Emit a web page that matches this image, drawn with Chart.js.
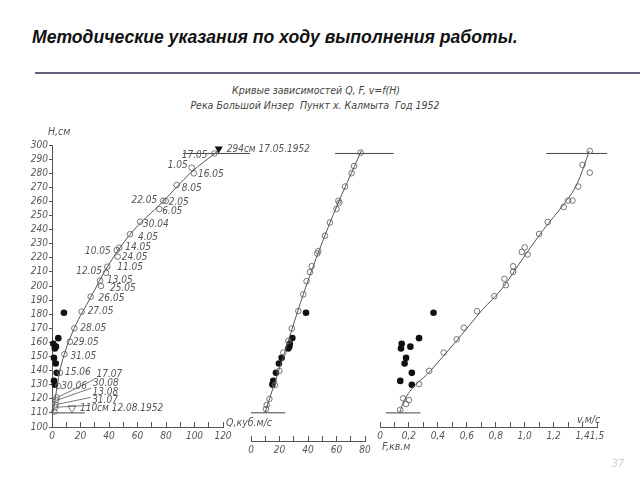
<!DOCTYPE html>
<html lang="ru">
<head>
<meta charset="utf-8">
<script src="https://cdn.jsdelivr.net/npm/chart.js@4.4.1/dist/chart.umd.min.js"></script>
<style>
  body { margin: 0; width: 640px; height: 480px; background: #fff; position: relative; overflow: hidden; }
  canvas { position: absolute; left: 0; top: 0; }
  .t { position: absolute; white-space: nowrap; font: italic 10.5px/11px "DejaVu Sans Condensed", "Liberation Sans", sans-serif; color: #555; }
  #title { position: absolute; left: 32px; top: 29px; white-space: nowrap; font: bold italic 17.6px/17px "Liberation Sans", Arial, sans-serif; color: #111; }
  #rule { position: absolute; left: 35px; top: 72px; width: 605px; border-top: 2px solid #62627f; }
  .sub { transform: translateX(-50%); font-size: 10.5px; color: #444; }
</style>
</head>
<body>
<div id="title">Методические указания по ходу выполнения работы.</div>
<div id="rule"></div>
<div class="t sub" style="left:316px; top:85px">Кривые зависимостей Q, F, v=f(H)</div>
<div class="t sub" style="left:315px; top:100px">Река Большой Инзер&nbsp;&nbsp;Пункт х. Калмыта&nbsp;&nbsp;Год 1952</div>

<canvas id="chartQ" width="640" height="480"></canvas>
<canvas id="chartF" width="640" height="480"></canvas>
<canvas id="chartV" width="640" height="480"></canvas>

<div class="t" style="left:48px; top:126px">H,см</div>
<div class="t" style="left:226px; top:417px">Q,куб.м/с</div>
<div class="t" style="left:382px; top:441px">F,кв.м</div>
<div class="t" style="left:577px; top:414px">v,м/с</div>
<div class="t" style="left:612px; top:458px; color:#ccc">37</div>

<script>
// Q = f(H): кривая расходов
const qCurveH = [110.8, 125, 138, 151.5, 170, 192, 213.5, 236.5, 260, 280, 296.5];
const qCurveQ = [0.9, 3, 5.1, 8.6, 15.6, 27.2, 38.8, 54.7, 78, 97, 117.4];

// измеренные расходы (открытое русло)
const measDates = ['17.05', '1.05', '16.05', '8.05', '22.05', '2.05', '6.05', '30.04', '4.05', '10.05',
  '14.05', '24.05', '11.05', '12.05', '13.05', '25.05', '26.05', '27.05', '28.05', '29.05',
  '31.05', '15.06', '30.06', '17.07', '30.08', '13.08', '31.07', '12.08'];
const measH = [294, 283.9, 279.9, 271.6, 260.5, 260.3, 254.6, 245.6, 236.7, 225.5,
  227.2, 220.8, 213.7, 209.4, 203.8, 200, 192.4, 181.8, 170, 160.5,
  151.6, 138.5, 129.1, 121, 119, 116, 114, 111];
const measQ = [114, 98, 99.6, 87.5, 78, 79.8, 75.3, 61.8, 54.7, 45.4,
  47.2, 46.1, 38.8, 37.9, 33.7, 34.4, 27.1, 20.8, 15.7, 12.6,
  8.7, 5.6, 4.4, 3.2, 2.8, 2.5, 2.2, 1.6];

// F = f(H)
const fCurveH = [110, 150, 200, 250, 296];
const fCurveF = [9.8, 22.7, 38.7, 57.5, 77.5];
const fMeasH = [294.6, 285, 280, 270.5, 260.4, 259, 254.6, 245, 235.7, 224.6, 223, 214,
  209.8, 203.4, 194, 182.2, 169.8, 161, 152.8, 139.8, 129.7, 119.8, 115.5, 112.7];
const fMeasF = [77, 72.3, 70.6, 66, 61.3, 62, 60, 55.4, 51.9, 47.2, 46.5, 42.6,
  41.4, 39, 36.7, 33.2, 28.6, 26.2, 22.7, 19.9, 16.8, 12.9, 11, 10.5];

// v = f(H)
const vCurveH = [110.6, 117.5, 140, 160, 183.4, 197.7, 223.5, 240, 257.6, 271.7, 285, 295.8];
const vCurveV = [0.138, 0.161, 0.35, 0.52, 0.71, 0.84, 1.014, 1.13, 1.267, 1.359, 1.41, 1.446];
const vMeasH = [295.8, 285.9, 280.4, 270.5, 260.6, 260.6, 256, 245.4, 236.9, 227.4, 224.2, 222.3,
  214, 210, 205.1, 200.6, 192.8, 182.2, 170.4, 162.2, 152.8, 139.8, 130.4, 120.3, 119.1, 116.3, 112.2];
const vMeasV = [1.45, 1.4, 1.45, 1.37, 1.33, 1.3, 1.27, 1.16, 1.1, 1.0, 0.98, 1.02,
  0.92, 0.92, 0.86, 0.87, 0.79, 0.67, 0.58, 0.53, 0.44, 0.34, 0.27, 0.16, 0.2, 0.18, 0.14];

// измерения при ледоставе (чёрные точки)
const iceH = [181, 163, 159, 157, 155.7, 149, 145, 138.4, 132.7, 130];
const iceQ = [8.4, 4.4, 0.9, 2.8, 2.0, 1.4, 2.6, 3.3, 1.4, 2.1];
const iceF = [38.6, 29, 27.2, 26.9, 26.2, 21.5, 19.6, 17.5, 15.6, 15.0];
const iceV = [0.37, 0.27, 0.15, 0.21, 0.145, 0.18, 0.17, 0.22, 0.14, 0.22];

// наивысший и наинизший уровни
const levelH = [294, 110];
const levelDates = ['17.05.1952', '12.08.1952'];
const levelMarkQ = [117, 14];
const levelQFrom = [92, 0], levelQTo = [139, 23];
const levelFFrom = [59, 0], levelFTo = [100, 24];
const levelVFrom = [1.15, 0.04], levelVTo = [1.57, 0.28];

const ink = '#555';
const fam = '"DejaVu Sans Condensed", "Liberation Sans", sans-serif';
const tickFont = { family: fam, style: 'italic', size: 10 };
const labelFont = 'italic 10px ' + fam;

const pts = (xs, ys) => xs.map((x, i) => ({ x: x, y: ys[i] }));

// где стоят подписи дат: [dx, dy, сторона, выноска]
const labelPlace = {
  '17.05': [-7, 2, 'l'], '1.05': [-4, -2, 'l'], '16.05': [4, 1], '8.05': [5, 3],
  '22.05': [-6, 0, 'l'], '2.05': [3, 1], '6.05': [3, 2], '30.04': [3, 3], '4.05': [8, 3],
  '10.05': [-6, 1, 'l'], '14.05': [6, 0], '24.05': [4, 1], '11.05': [10, 1],
  '12.05': [-4, -1, 'l'], '13.05': [7, 0], '25.05': [9, 2], '26.05': [8, 2],
  '27.05': [6, 0], '28.05': [6, 0], '29.05': [3, 1], '31.05': [6, 2], '15.06': [5, 0],
  '30.06': [3, 0], '17.07': [40, -23, 'r', true], '30.08': [37, -17, 'r', true],
  '13.08': [37, -12, 'r', true], '31.07': [37, -7, 'r', true], '12.08': null
};

const dateLabels = {
  id: 'dateLabels',
  afterDatasetsDraw(chart) {
    const ctx = chart.ctx;
    const meta = chart.getDatasetMeta(1);
    ctx.save();
    ctx.font = labelFont;
    ctx.fillStyle = ink;
    ctx.strokeStyle = ink;
    ctx.lineWidth = 0.8;
    ctx.textBaseline = 'middle';
    meta.data.forEach((p, i) => {
      const place = labelPlace[measDates[i]];
      if (!place) return;
      const [dx, dy, side, leader] = place;
      const x = p.x + dx, y = p.y + dy;
      ctx.textAlign = side === 'l' ? 'right' : 'left';
      ctx.fillText(measDates[i], x, y);
      if (leader) {
        ctx.beginPath();
        ctx.moveTo(p.x + 1, p.y);
        ctx.lineTo(x - 2, y + 5);
        ctx.stroke();
      }
    });

    // отметки уровней
    const xs = chart.scales.x, ys = chart.scales.y;
    levelH.forEach((h, i) => {
      const x = xs.getPixelForValue(levelMarkQ[i]);
      const y = ys.getPixelForValue(h);
      ctx.beginPath();
      ctx.moveTo(x - 4, y - 7);
      ctx.lineTo(x + 4, y - 7);
      ctx.lineTo(x, y);
      ctx.closePath();
      if (i === 0) { ctx.fillStyle = '#111'; ctx.fill(); } else { ctx.stroke(); }
      ctx.fillStyle = ink;
      ctx.textAlign = 'left';
      ctx.fillText(h + 'см ' + levelDates[i], x + 8, y - 4);
    });
    ctx.restore();
  }
};

function levelSets(from, to) {
  return levelH.map((h, i) => ({
    data: [{ x: from[i], y: h }, { x: to[i], y: h }],
    showLine: true, borderColor: '#444', borderWidth: 1, pointRadius: 0, clip: false
  }));
}

function curveSet(xs, ys) {
  return { data: pts(xs, ys), showLine: true, borderColor: '#555', borderWidth: 1,
    pointRadius: 0, cubicInterpolationMode: 'monotone', clip: false };
}
function openSet(xs, ys) {
  return { data: pts(xs, ys), pointRadius: 2.8, pointBorderWidth: 0.9,
    pointBorderColor: '#666', pointBackgroundColor: 'rgba(255,255,255,0)', clip: false };
}
function iceSet(xs, ys) {
  return { data: pts(xs, ys), pointRadius: 3.3, pointBorderWidth: 0,
    pointBackgroundColor: '#111', clip: false };
}

function xAxis(max, step, labelEvery, fmt) {
  return {
    type: 'linear', min: 0, max: max,
    ticks: {
      stepSize: step, autoSkip: false, maxRotation: 0, padding: 8,
      color: ink, font: tickFont,
      callback: (v, i, all) => (i % labelEvery === 0 || i === all.length - 1) ? fmt(v) : ''
    },
    grid: { drawOnChartArea: false, tickLength: -5, color: ink },
    border: { color: ink },
    afterFit: s => { s.height = 20; }
  };
}

function hAxis(min, show) {
  return {
    type: 'linear', min: min, max: 300, display: show,
    ticks: { stepSize: 10, autoSkip: false, padding: 1, color: ink, font: tickFont },
    grid: { drawOnChartArea: false, tickLength: 3, color: ink },
    border: { color: ink },
    afterFit: s => { s.width = show ? 40 : 0; }
  };
}

function baseOptions(padding, x, y) {
  return {
    responsive: false,
    animation: false,
    layout: { padding: padding },
    plugins: { legend: { display: false }, tooltip: { enabled: false } },
    scales: { x: x, y: y }
  };
}

const num = v => String(v);
const comma = v => v === 0 ? '0' : v.toFixed(1).replace('.', ',');

new Chart(document.getElementById('chartQ'), {
  type: 'scatter',
  data: {
    datasets: [
      curveSet(qCurveQ, qCurveH),
      openSet(measQ, measH),
      iceSet(iceQ, iceH),
      ...levelSets(levelQFrom, levelQTo)
    ]
  },
  options: baseOptions({ left: 12, right: 417, top: 145, bottom: 33 },
    xAxis(120, 10, 2, num), hAxis(100, true)),
  plugins: [dateLabels]
});

new Chart(document.getElementById('chartF'), {
  type: 'scatter',
  data: {
    datasets: [
      curveSet(fCurveF, fCurveH),
      openSet(fMeasF, fMeasH),
      iceSet(iceF, iceH),
      ...levelSets(levelFFrom, levelFTo)
    ]
  },
  options: baseOptions({ left: 251, right: 275, top: 145, bottom: 19 },
    xAxis(80, 10, 2, num), hAxis(90, false))
});

new Chart(document.getElementById('chartV'), {
  type: 'scatter',
  data: {
    datasets: [
      curveSet(vCurveV, vCurveH),
      openSet(vMeasV, vMeasH),
      iceSet(iceV, iceH),
      ...levelSets(levelVFrom, levelVTo)
    ]
  },
  options: baseOptions({ left: 380, right: 43, top: 145, bottom: 33 },
    xAxis(1.5, 0.1, 2, comma), hAxis(100, false))
});
</script>
</body>
</html>
